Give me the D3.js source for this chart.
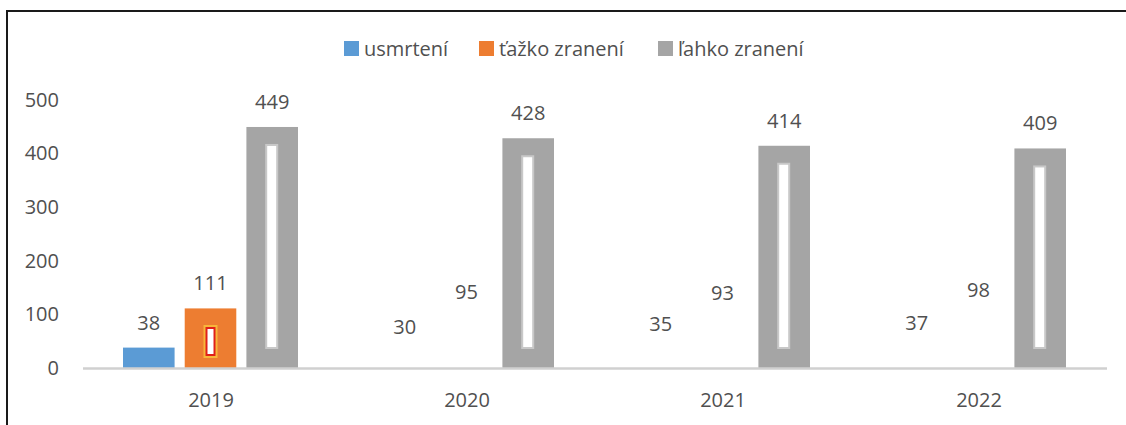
<!DOCTYPE html>
<html>
<head>
<meta charset="utf-8">
<script src="https://cdn.jsdelivr.net/npm/d3@7"></script>
<style>
  body { margin: 0; background: #fff; }
  text { font-family: "Open Sans", sans-serif; fill: #505050; }
</style>
</head>
<body>
<script>
// data
var years = ["2019", "2020", "2021", "2022"];
var series = ["usmrtení", "ťažko zranení", "ľahko zranení"];
var usmrteni = [38, 30, 35, 37];
var tazko = [111, 95, 93, 98];
var lahko = [449, 428, 414, 409];
var yTicks = [0, 100, 200, 300, 400, 500];
var colors = ["#5b9bd5", "#ed7d31", "#a5a5a5"];
// in the picture only these years show the blue / orange bars
var solidYears = ["2019"];

function run_d3 () {
    var width = 1126, height = 425;
    var values = [usmrteni, tazko, lahko];

    var svg = d3.select("body").append("svg")
        .attr("width", width)
        .attr("height", height);

    // frame (cut off at right and bottom)
    svg.append("path")
        .attr("d", "M7,425 V11 H1126")
        .attr("fill", "none")
        .attr("stroke", "#1a1a1a")
        .attr("stroke-width", 2);

    var x0 = d3.scaleBand().domain(years).range([83, 1107]);
    var x1 = d3.scaleBand().domain(series).range([40, 215]).paddingInner(10 / 61);
    var y = d3.scaleLinear().domain([0, 500]).range([368, 99.6]);

    // y tick labels (no gridlines)
    svg.append("g").selectAll("text")
        .data(yTicks)
        .enter().append("text")
        .attr("x", 59)
        .attr("y", function (d) { return y(d); })
        .attr("dy", "0.35em")
        .attr("text-anchor", "end")
        .attr("font-size", 20)
        .text(function (d) { return d; });

    var rows = [];
    series.forEach(function (s, si) {
        years.forEach(function (yr, yi) {
            rows.push({ s: s, si: si, year: yr, v: values[si][yi] });
        });
    });

    var bx = function (d) { return x0(d.year) + x1(d.s); };
    var bw = x1.bandwidth();

    svg.append("g").selectAll("rect")
        .data(rows)
        .enter().append("rect")
        .attr("x", bx)
        .attr("y", function (d) { return y(d.v); })
        .attr("width", bw)
        .attr("height", function (d) { return y(0) - y(d.v); })
        .attr("fill", function (d) {
            if (d.si < 2 && solidYears.indexOf(d.year) < 0) return "none";
            return colors[d.si];
        });

    // white stripe seen inside the grey bars
    var grey = rows.filter(function (d) { return d.si === 2; });
    svg.append("g").selectAll("rect")
        .data(grey)
        .enter().append("rect")
        .attr("x", function (d) { return bx(d) + bw / 2 - 6; })
        .attr("y", function (d) { return y(d.v) + 18; })
        .attr("width", 11)
        .attr("height", function (d) { return y(0) - y(d.v) - 38; })
        .attr("fill", "#fff")
        .attr("stroke", "#c8c8c8")
        .attr("stroke-width", 2);

    // small glitch in the orange 2019 bar
    var o = rows.filter(function (d) { return d.si === 1 && d.year === "2019"; });
    var og = svg.append("g").selectAll("g").data(o).enter().append("g");
    og.append("rect")
        .attr("x", function (d) { return bx(d) + bw / 2 - 7; })
        .attr("y", y(0) - 43)
        .attr("width", 14).attr("height", 33)
        .attr("fill", "#f7b63a");
    og.append("rect")
        .attr("x", function (d) { return bx(d) + bw / 2 - 4; })
        .attr("y", y(0) - 40)
        .attr("width", 8).attr("height", 27)
        .attr("fill", "#fff")
        .attr("stroke", "#e0201a")
        .attr("stroke-width", 2);

    // value labels
    svg.append("g").selectAll("text")
        .data(rows)
        .enter().append("text")
        .attr("x", function (d) { return bx(d) + bw / 2; })
        .attr("y", function (d) { return y(d.v) - 18; })
        .attr("text-anchor", "middle")
        .attr("font-size", 20)
        .text(function (d) { return d.v; });

    // x axis line
    svg.append("line")
        .attr("x1", 83).attr("x2", 1107)
        .attr("y1", y(0) + 0.5).attr("y2", y(0) + 0.5)
        .attr("stroke", "#d0d0d0")
        .attr("stroke-width", 2.5);

    svg.append("g").selectAll("text")
        .data(years)
        .enter().append("text")
        .attr("x", function (d) { return x0(d) + x0.bandwidth() / 2; })
        .attr("y", 407)
        .attr("text-anchor", "middle")
        .attr("font-size", 20)
        .text(function (d) { return d; });

    // legend
    var legX = [344, 479, 658];
    var leg = svg.append("g").selectAll("g")
        .data(series)
        .enter().append("g")
        .attr("transform", function (d, i) { return "translate(" + legX[i] + ",41)"; });
    leg.append("rect")
        .attr("width", 15).attr("height", 15)
        .attr("fill", function (d, i) { return colors[i]; });
    leg.append("text")
        .attr("x", 20).attr("y", 14.5)
        .attr("font-size", 20)
        .text(function (d) { return d; });
}

window.onload = run_d3;
</script>
</body>
</html>
